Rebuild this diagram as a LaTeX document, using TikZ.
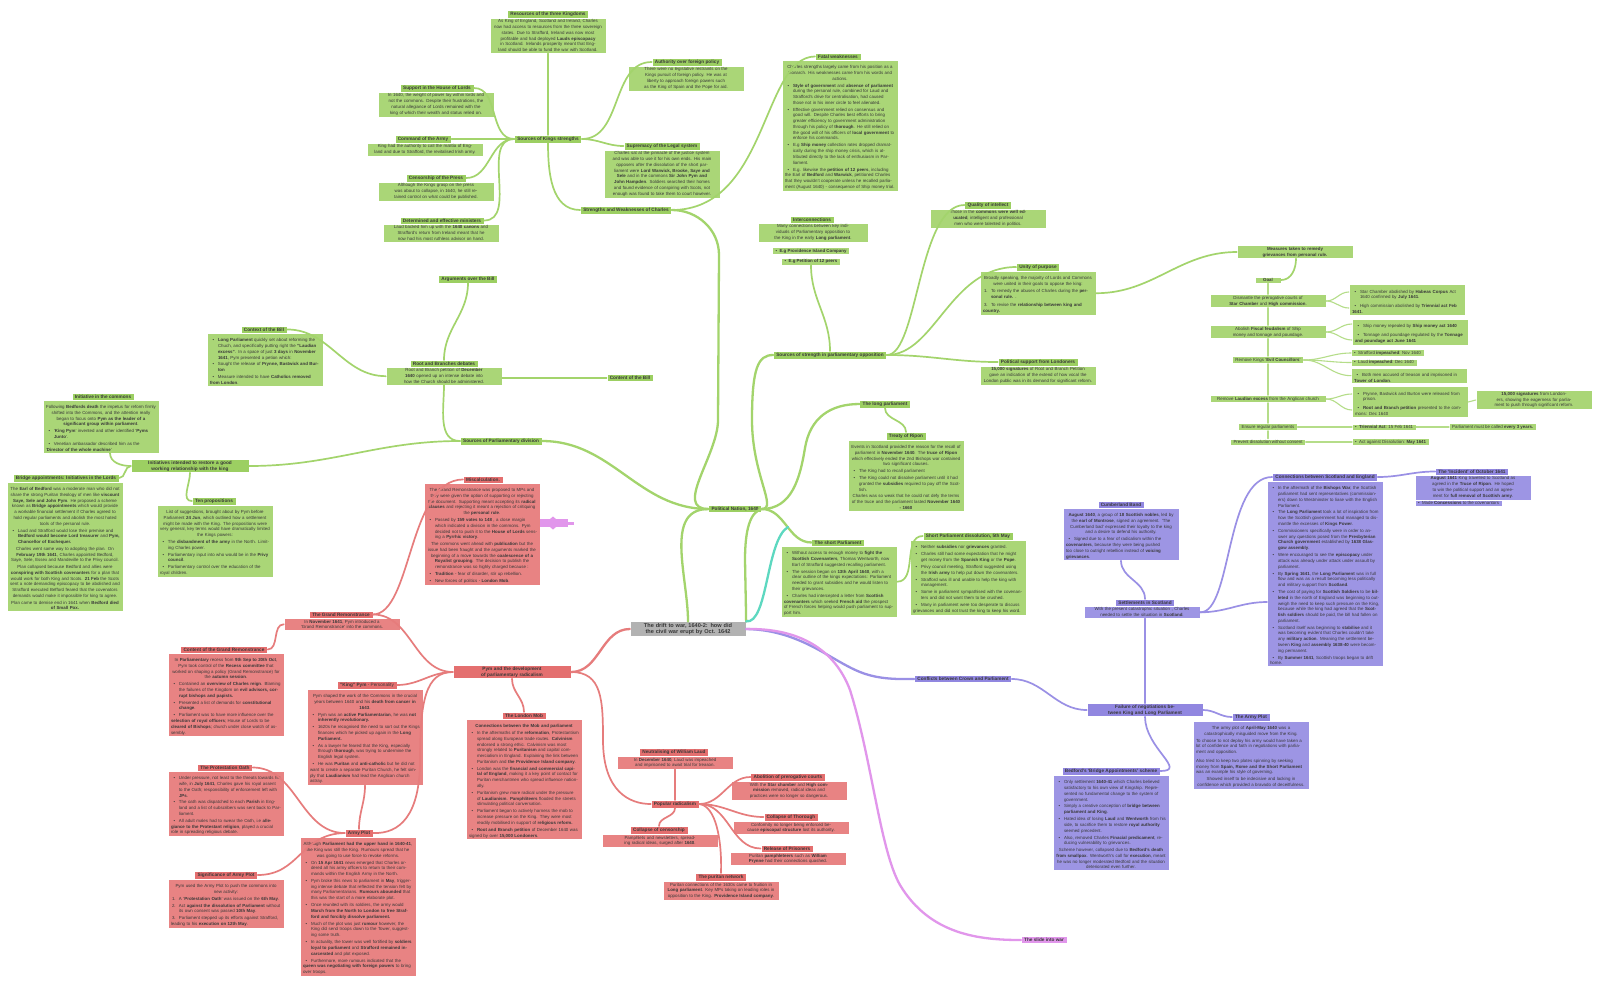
\documentclass[tikz,border=0pt]{standalone}
\usepackage{fontspec}
\setmainfont{Liberation Sans}
\definecolor{cgt}{HTML}{9CCF62}
\definecolor{cgb}{HTML}{AAD677}
\definecolor{cgl}{HTML}{A3D46C}
\definecolor{crt}{HTML}{E46F6F}
\definecolor{crb}{HTML}{E88383}
\definecolor{crl}{HTML}{E67C7C}
\definecolor{cpt}{HTML}{9187E0}
\definecolor{cpb}{HTML}{9D95E4}
\definecolor{cpl}{HTML}{9A90E5}
\definecolor{cpk}{HTML}{E196EB}
\definecolor{ctl}{HTML}{5DD8C0}
\definecolor{cgy}{HTML}{B2B2B2}
\definecolor{ctx}{HTML}{383838}
\newcommand\bodyf{\fontsize{4.4}{5.75}\selectfont}
\newcommand\titf{\fontsize{4.7}{5.6}\selectfont\bfseries}
\newcommand\bi{\par\vspace{1.2pt}\noindent\hangindent=8pt\hangafter=1\hbox to 8pt{\hskip2.5pt\textbullet\hss}}
\newcommand\numi[1]{\par\vspace{1.2pt}\noindent\hangindent=8pt\hangafter=1\hbox to 8pt{\hskip1pt#1\hss}}
\newcommand\cp[1]{\par\vspace{1pt}{\centering#1\par}}
\tikzset{
 boxbase/.style={inner xsep=3pt, inner ysep=1.6pt, text=ctx, draw=white, line width=0.4pt},
 gT/.style={boxbase, fill=cgt, font=\titf},
 gB/.style={boxbase, fill=cgb, font=\bodyf, text width=110pt, align=center},
 gBl/.style={gB, align=left},
 gS/.style={boxbase, fill=cgb, font=\bodyf},
 rT/.style={boxbase, fill=crt, font=\titf},
 rB/.style={boxbase, fill=crb, font=\bodyf, text width=110pt, align=center},
 rBl/.style={rB, align=left},
 pT/.style={boxbase, fill=cpt, font=\titf},
 pB/.style={boxbase, fill=cpb, font=\bodyf, text width=110pt, align=center},
 pBl/.style={pB, align=left},
 gl/.style={draw=cgl, line width=1.7pt, line cap=round},
 glm/.style={draw=cgl, line width=2.3pt, line cap=round},
 gls/.style={draw=cgl!80!white, line width=1.1pt, line cap=round},
 rl/.style={draw=crl, line width=1.7pt, line cap=round},
 rlm/.style={draw=crl, line width=2.3pt, line cap=round},
 pl/.style={draw=cpl, line width=1.7pt, line cap=round},
 plm/.style={draw=cpl, line width=2.3pt, line cap=round},
}
\begin{document}
\begin{tikzpicture}[x=1pt,y=-1pt]
\fill[white] (0,0) rectangle (1600,1002);
\useasboundingbox (0,0) rectangle (1600,1002);

% ---------------- centre
\node[boxbase, fill=cgy, font=\fontsize{5.6}{6.4}\selectfont\bfseries, text width=110pt, align=center] (c) at (688,629) {The drift to war, 1640-2: how did the civil war erupt by Oct. 1642};

% ---------------- GREEN
\node[gT] (pn) at (735,509) {Political Nation, 1640};
\node[gT] (spd) at (501,441) {Sources of Parliamentary division};

\node[gB, anchor=north] (rb) at (444,367) {Root and Branch petition of \textbf{December 1640} opened up an intense debate into how the Church should be administered.};
\node[gT, anchor=south] (rbT) at (444,367) {Root and Branches debates};
\node[gT] (cob) at (630,378) {Content of the Bill};
\node[gT] (aob) at (468,279) {Arguments over the Bill};

\node[gBl, anchor=north] (ctx) at (265,333) {\bi \textbf{Long Parliament} quickly set about reforming the Chuch, and specifically putting right the \textbf{"Laudian excess"}. In a space of just \textbf{3 days} in \textbf{November 1641}, Pym presented a petion which:
\bi Sought the release of \textbf{Prynne, Bastwick and Burton}
\bi Measure intended to have \textbf{Catholics removed from London}.};
\node[gT, anchor=south] (ctxT) at (264,333) {Context of the Bill};

\node[gT, text width=112pt, align=center] (init) at (190,466) {Initiatives intended to restore a good working relationship with the king};

\node[gBl, anchor=north] (iic) at (101,400) {\cp{Following \textbf{Bedfords death} the impetus for reform firmly shifted into the Commons, and the attention really began to focus onto \textbf{Pym as the leader of a significant group within parliament}.}
\bi `\textbf{King Pym}' invented and other identified `\textbf{Pyms Junto}'.
\bi Venetian ambassador described him as the `\textbf{Director of the whole machine}'};
\node[gT, anchor=south] (iicT) at (103,400) {Initiative in the commons};

\node[gBl, anchor=north] (ba) at (65,482) {\cp{The \textbf{Earl of Bedford} was a moderate man who did not share the strong Puritan theology of men like \textbf{viscount Saye, Sele and John Pym}. He proposed a scheme known as \textbf{Bridge appointments} which would provide a workable financial settlement if Charles agreed to hold regular parliaments and abolish the most hated tools of the personal rule.}
\bi Laud and Strafford would lose their premise and \textbf{Bedford would become Lord treasurer} and \textbf{Pym, Chancellor of Exchequer.}
\cp{Charles went same way to adopting the plan. On \textbf{February 19th 1641}, Charles appointed Bedford, Saye, Sele, Essex and Mandeville to the Privy council.}
\cp{Plan collapsed because Bedford and allies were \textbf{conspiring with Scottish covenanters} for a plan that would work for both King and Scots. \textbf{21 Feb} the Scots sent a note demanding episcopacy to be abolished and Strafford executed Befford feared that the covenators demands would make it impossible for king to agree.}
\cp{Plan came to demise end in 1641 when \textbf{Bedford died of Small Pox.}}};
\node[gT, anchor=south] (baT) at (66,482) {Bridge appointments: Initiatives in the Lords};

\node[gBl, anchor=north] (tp) at (215,505) {\cp{List of suggestions, brought about by Pym before Parliament \textbf{24 Jun}, which outlined how a settlement might be made with the King. The propositions were very general, key terms would have dramatically limited the Kings powers:}
\bi The \textbf{disbandment of the army} in the North. Limiting Charles power.
\bi Parliamentary input into who would be in the \textbf{Privy council}.
\bi Parliamentary control over the education of the royal children.};
\node[gT, anchor=south] (tpT) at (214,505) {Ten propositions};

% Kings strengths
\node[gT] (sks) at (548,139) {Sources of Kings strengths};
\node[gB, anchor=north] (res) at (548,18) {As King of England, Scotland and Ireland, Charles now had access to resources from the three sovereign states. Due to Strafford, Ireland was now most profitable and had deployed \textbf{Lauds episcopacy} in Scotland. Irelands prosperity meant that England should be able to fund the war with Scotland.};
\node[gT, anchor=south] (resT) at (548,18) {Resources of the three Kingdoms};

\node[gB, anchor=north] (shl) at (436,92) {In 1640, the weight of power lay within lords and not the commons. Despite their frustrations, the natural allegiance of Lords remained with the king of which their wealth and status relied on.};
\node[gT, anchor=south] (shlT) at (437,92) {Support in the House of Lords};

\node[gB, anchor=north] (ca) at (425,143) {King had the authority to call the malitia of England and due to Strafford, the revitalised Irish army.};
\node[gT, anchor=south] (caT) at (423,143) {Command of the Army};

\node[gB, anchor=north] (cpr) at (436,182) {Although the Kings grasp on the press was about to collapse, in 1640, he still retained control on what could be published.};
\node[gT, anchor=south] (cpT) at (436,182) {Censorship of the Press};

\node[gB, anchor=north] (dm) at (441,224) {Laud backed him up with the \textbf{1640 canons} and Strafford's return from Ireland meant that he now had his most ruthless advisor on hand.};
\node[gT, anchor=south] (dmT) at (442,224) {Determined and effective ministers};

\node[gB, anchor=north] (af) at (686,66) {There were no legislative restraints on the Kings pursuit of foreign policy. He was at liberty to approach foreign powers such as the King of Spain and the Pope for aid.};
\node[gT, anchor=south] (afT) at (687,66) {Authority over foreign policy};

\node[gB, anchor=north] (slg) at (662,150) {Charles sat at the pinnacle of the justice system and was able to use it for his own ends. His main opposers after the dissolution of the short parliament were \textbf{Lord Warwick, Brooke, Saye and Sele} and in the commons \textbf{Sir John Pym and John Hampden}. Soldiers searched their homes and found evidence of conspiring with Scots, not enough was found to take them to court however.};
\node[gT, anchor=south] (slT) at (662,150) {Supremacy of the Legal system};

\node[gT] (sw) at (626,210) {Strengths and Weaknesses of Charles};

\node[gBl, anchor=north] (fw) at (840,60) {\cp{Charles strengths largely came from his position as a monarch. His weaknesses came from his words and actions.}
\bi \textbf{Style of government} and \textbf{absence of parliament} during the personal rule, combined for Laud and Strafford's drive for centralisation, had caused those not in his inner circle to feel alienated.
\bi Effective government relied on consensus and good will. Despite Charles best efforts to bring greater efficiency to government administration through his policy of \textbf{thorough}. He still relied on the good will of his officers of \textbf{local government} to enforce his commands.
\bi E.g \textbf{Ship money} collection rates dropped dramatically during the ship money crisis, which is attributed directly to the lack of enthusiasm in Parliament.
\bi E.g. likewise the \textbf{petition of 12 peers}, including the Earl of \textbf{Bedford} and \textbf{Warwick}, petitioned Charles that they wouldn't cooperate unless he recalled parliament (August 1640) - consequence of Ship money trial.};
\node[gT, anchor=south] (fwT) at (838,60) {Fatal weaknesses};

% parliamentary opposition
\node[gB, anchor=north, text width=104pt] (ic) at (813,223) {Many connections between key individuals of Parliamentary opposition to the King in the early \textbf{Long parliament}.};
\node[gT, anchor=south] (icT) at (812,223) {Interconnections};
\node[gS, font=\bodyf\bfseries] (ic1) at (811,251) {\textbullet\ \ E.g Providence Island Company};
\node[gS, font=\bodyf\bfseries] (ic2) at (811,261.5) {\textbullet\ \ E.g Petition of 12 peers};

\node[gT] (sspo) at (830,355) {Sources of strength in parliamentary opposition};

\node[gB, anchor=north] (qi) at (988,209) {Those in the \textbf{commons were well educated}, intelligent and professional men who were talented in politics.};
\node[gT, anchor=south] (qiT) at (988,209) {Quality of intellect};

\node[gBl, anchor=north] (up) at (1038,271) {\cp{Broadly speaking, the majority of Lords and Commons were united in their goals to oppose the king:}
\numi{1.}To remedy the abuses of Charles during the \textbf{personal rule.} .
\vspace{2pt}
\numi{3.}To revise the \textbf{relationship between king and country.}};
\node[gT, anchor=south] (upT) at (1038,271) {Unity of purpose};

\node[gB, anchor=north] (ps) at (1038,366) {\textbf{15,000 signatures} of Root and Branch Petition gave an indication of the extend of how vocal the London public was in its demand for significant reform.};
\node[gT, anchor=south] (psT) at (1038,366) {Political support from Londoners};

% measures
\node[gB, font=\bodyf\bfseries] (meas) at (1295,252) {Measures taken to remedy grievances from personal rule.};
\node[gS, font=\bodyf\bfseries, minimum width=26pt] (goal) at (1268,280) {Goal};
\node[gB] (dism) at (1268,301) {Dismantle the prerogative courts of \textbf{Star Chamber} and \textbf{High commission}.};
\node[gBl] (dismB) at (1407,300) {\bi Star Chamber abolished by \textbf{Habeas Corpus} Act 1640 confirmed by \textbf{July 1641}.\par\vspace{2pt}
\bi High commission abolished by \textbf{Triennial act Feb 1641}.};
\node[gB] (abol) at (1268,332) {Abolish \textbf{Fiscal feudalism} of Ship money and tonnage and poundage.};
\node[gBl] (abolB) at (1410,332) {\bi Ship money repealed by \textbf{Ship money act 1640}\par\vspace{2pt}
\bi Tonnage and poundage regulated by the \textbf{Tonnage and poundage act June 1641}};
\node[gS] (evil) at (1268,360) {Remove Kings `\textbf{Evil Councillors}'};
\node[gS, anchor=west] (ev1) at (1351,353) {\textbullet\ \ Strafford \textbf{impeached}: Nov 1640};
\node[gS, anchor=west] (ev2) at (1351,362.5) {\textbullet\ \ Laud \textbf{impeached}: Dec 1640};
\node[gBl, anchor=north west] (ev3) at (1351,367.5) {\bi Both men accused of treason and imprisoned in \textbf{Tower of London}.};
\node[gB] (laud) at (1268,399) {Remove \textbf{Laudian excess} from the Anglican church};
\node[gBl] (laudB) at (1410,402) {\bi Prynne, Bastwick and Burton were released from prison.\par\vspace{2pt}
\bi \textbf{Root and Branch petition} presented to the commons: Dec 1640};
\node[gB] (sig) at (1534,400) {\textbf{15,000 signatures} from Londoners, showing the eagerness for parliament to push through significant reform.};
\node[gS] (ens) at (1268,427) {Ensure regular parliaments};
\node[gS, anchor=west] (tri) at (1352,427) {\textbullet\ \ \textbf{Triennial Act}: 15 Feb 1641};
\node[gS, anchor=west] (ev3y) at (1449,427) {Parliament must be called \textbf{every 3 years.}};
\node[gS] (prev) at (1268,442) {Prevent dissolution without consent};
\node[gS, anchor=west] (dis) at (1352,442) {\textbullet\ \ Act against Dissolution: \textbf{May 1641}};

% long / short parliament
\node[gT] (lp) at (885,404) {The long parliament};
\node[gBl, anchor=north] (tr) at (906,440) {\cp{Events in Scotland provided the reason for the recall of parliament in \textbf{November 1640}. The \textbf{truce of Ripon} which effectively ended the 2nd Bishops war contained two significant clauses.}
\bi The King had to recall parliament
\bi The King could not dissolve parliament until it had granted the \textbf{subsidies} required to pay off the Scottish.
\cp{Charles was so weak that he could not defy the terms of the truce and the parliament lasted \textbf{November 1640 - 1660}}};
\node[gT, anchor=south] (trT) at (906,440) {Treaty of Ripon};

\node[gBl, anchor=north] (sp) at (839,546) {\bi Without access to enough money to \textbf{fight the Scottish Covenanters}, Thomas Wentworth, now Earl of Strafford suggested recalling parliament.
\bi The session began on \textbf{13th April 1640}, with a clear outline of the kings expectations: Parliament needed to grant subsidies and he would listen to their grievances.
\bi Charles had intercepted a letter from \textbf{Scottish covenanters} which seeked \textbf{French aid} the prospect of French forces helping would push parliament to support him.};
\node[gT, anchor=south] (spT) at (838,546) {The short Parliament};

\node[gBl, anchor=north] (spx) at (968,540) {\bi Neither \textbf{subsidies} nor \textbf{grievances} granted.
\bi Charles still had some expectation that he might get money from the \textbf{Spanish King} or the \textbf{Pope}.
\bi Privy council meeting, Strafford suggested using the \textbf{Irish army} to help put down the covenanters.
\bi Strafford was ill and unable to help the king with management.
\bi Some in parliament sympathised with the covenanters and did not want them to be crushed.
\bi Many in parliament were too desperate to discuss grievances and did not trust the king to keep his word.};
\node[gT, anchor=south] (spxT) at (968,540) {Short Parliament dissolution, 5th May};

% ---------------- RED
\node[rT, text width=112pt, align=center] (pym) at (512,672) {Pym and the development of parliamentary radicalism};

\node[rBl, anchor=north] (lm) at (524,719) {\cp{\textbf{Connections between the Mob and parliament}}
\bi In the aftermaths of the \textbf{reformation}, Protestantism spread along European trade routes. \textbf{Calvinism} endorsed a strong ethic. Calvinism was most strongly related to \textbf{Puritanism} and capital commercialism in England. Explaining the link between Puritanism and \textbf{the Providence Island company}.
\bi London was the \textbf{financial and commercial capital of England}, making it a key point of contact for Puritan merchantmen who spread influence nationally.
\bi Puritanism grew more radical under the pressure of \textbf{Laudianism}. \textbf{Pamphliteers} flooded the streets stimulating political conversation.
\bi Parliament began to actively harness the mob to increase pressure on the King. They were most readily mobilised in support of \textbf{religious reform.}
\bi \textbf{Root and Branch petition} of December 1640 was signed by over \textbf{15,000 Londoners}.};
\node[rT, anchor=south] (lmT) at (524,719) {The London Mob};

\node[rB, anchor=north] (nl) at (675,756) {In \textbf{December 1640}, Laud was impeached and imprisoned to await trial for treason.};
\node[rT, anchor=south] (nlT) at (674,756) {Neutralising of William Laud};

\node[rT] (pr) at (675,804) {Popular radicalism};

\node[rB, anchor=north] (cc) at (660,834) {Pamphlets and newsletters, spreading radical ideas, surged after \textbf{1640}.};
\node[rT, anchor=south] (ccT) at (659,834) {Collapse of censorship};

\node[rB, anchor=north] (pnw) at (721,881) {Puritan connections of the 1630s came to fruition in \textbf{Long parliament}. Key MPs taking on leading roles in opposition to the King. \textbf{Providence Island company}.};
\node[rT, anchor=south] (pnwT) at (721,881) {The puritan network};

\node[rB, anchor=north] (apc) at (789,781) {With the \textbf{Star chamber} and \textbf{High commission} removed, radical ideas and practices were no longer so dangerous.};
\node[rT, anchor=south] (apcT) at (788,781) {Abolition of prerogative courts};

\node[rB, anchor=north] (ct) at (791,821) {Conformity no longer being enforced because \textbf{episcopal structure} lost its authority.};
\node[rT, anchor=south] (ctT) at (791,821) {Collapse of Thorough};

\node[rB, anchor=north] (rp) at (788,852) {Puritan \textbf{pamphleteers} such as \textbf{William Prynne} had their connections quashed.};
\node[rT, anchor=south] (rpT) at (787,852) {Release of Prisoners};

\node[rB, anchor=north] (gr) at (342,618) {In \textbf{November 1641}, Pym introduced a `Grand Remonstrance' into the commons.};
\node[rT, anchor=south] (grT) at (341,618) {The Grand Remonstrance};

\node[rBl, anchor=north] (cgr) at (226,653) {\cp{In \textbf{Parliamentary} recess from \textbf{9th Sep to 20th Oct}, Pym took control of the \textbf{Recess committee} that worked on shaping a policy (Grand Remonstrance) for the \textbf{autumn session}.}
\bi Contained an \textbf{overview of Charles reign}. Blaming the failures of the Kingdom on \textbf{evil advisors, corrupt bishops and papists.}
\bi Presented a list of demands for \textbf{constitutional change}.
\bi Parliament was to have more influence over the \textbf{selection of royal officers}; House of Lords to be \textbf{cleared of Bishops}; church under close watch of assembly.};
\node[rT, anchor=south] (cgrT) at (224,653) {Content of the Grand Remonstrance};

\node[rBl, anchor=north] (mi) at (482,483) {\cp{The Grand Remonstrance was proposed to MPs and they were given the option of supporting or rejecting the document. Supporting meant accepting its \textbf{radical clauses} and rejecting it meant a rejection of critiquing the \textbf{personal rule}.}
\bi Passed by \textbf{159 votes to 148} , a close margin which indicated a division in the commons. Pym decided not to push it to the \textbf{House of Lords} sensing a \textbf{Pyrrhic victory}.
\cp{The commons went ahead with \textbf{publication} but the issue had been fraught and the arguments marked the beginning of a move towards the \textbf{coalescence of a Royalist grouping}. The decision to publish the remonstrance was so highly charged because :}
\bi \textbf{Tradition} - fear of disorder, stir up rebellion.
\bi New forces of politics - \textbf{London Mob}.};
\node[rT, anchor=south] (miT) at (483,483) {Miscalculation.};

\node[rBl, anchor=north] (kp) at (365,689) {\cp{Pym shaped the work of the Commons in the crucial years between 1640 and his \textbf{death from cancer in 1643}.}
\bi Pym was an \textbf{active Parliamentarian}, he was \textbf{not inherently revolutionary.}
\bi 1620s he recognised the need to sort out the Kings finances which he picked up again in the \textbf{Long Parliament.}
\bi As a lawyer he feared that the King, especially through \textbf{thorough}, was trying to undermine the English legal system.
\bi He was \textbf{Puritan} and \textbf{anti-catholic} but he did not want to create a separate Puritan Church, he felt simply that \textbf{Laudianism} had lead the Anglican church astray.};
\node[rT, anchor=south] (kpT) at (367,689) {"King" Pym \textmd{- Personality}};

\node[rBl, anchor=north] (po) at (226,771) {\bi Under pressure, not least to the threats towards his wife, in \textbf{July 1641}, Charles gave his royal assent to the Oath; responsibility of enforcement left with \textbf{JPs}.
\bi The oath was dispatched to each \textbf{Parish} in England and a list of subscribers was sent back to Parliament.
\bi All adult males had to swear the Oath, i.e \textbf{allegiance to the Protestant religion}, played a crucial role in spreading religious debate.};
\node[rT, anchor=south] (poT) at (225,771) {The Protestation Oath};

\node[rBl, anchor=north] (apl) at (358,837) {\cp{Although \textbf{Parliament had the upper hand in 1640-41}, the King was still the King. Rumours spread that he was going to use force to revoke reforms.}
\bi On \textbf{15 Apr 1641} news emerged that Charles ordered all his army officers to return to their commands within the English Army in the North.
\bi Pym broke this news to parliament in \textbf{May}, triggering intense debate that reflected the tension felt by many Parliamentarians. \textbf{Rumours abounded} that this was the start of a more elaborate plot.
\bi Once reunited with its soldiers, the army would \textbf{March from the North to London to free Strafford and forcibly dissolve parliament.}
\bi Much of the plot was just \textbf{rumour} however, the King did send troops down to the Tower, suggesting some truth.
\bi In actuality, the tower was well fortified by \textbf{soldiers loyal to parliament} and \textbf{Strafford remained incarcerated} and plot exposed.
\bi Furthermore, more rumours indicated that the \textbf{queen was negotiating with foreign powers} to bring over troops.};
\node[rT, anchor=south] (aplT) at (359,837) {Army Plot};

\node[rBl, anchor=north] (sa) at (226,879) {\cp{Pym used the Army Plot to push the commons into new activity:}
\numi{1.}A `\textbf{Protestation Oath}' was issued on the \textbf{6th May}.
\numi{2.}Act \textbf{against the dissolution of Parliament} without its own consent was passed \textbf{10th May}.
\numi{3.}Parliament stepped up its efforts against Strafford, leading to his \textbf{execution on 12th May}.};
\node[rT, anchor=south] (saT) at (226,879) {Significance of Army Plot};

% ---------------- PURPLE
\node[pT] (cbcp) at (963,679) {Conflicts between Crown and Parliament};
\node[pT, text width=110pt, align=center] (fail) at (1145,710) {Failure of negotiations between King and Long Parliament};

\node[pB, anchor=north] (ss) at (1142,606) {With the present catastrophic situation , Charles needed to settle the situation in \textbf{Scotland}.};
\node[pT, anchor=south] (ssT) at (1145,606) {Settlements in Scotland};

\node[pBl, anchor=north] (cb) at (1121,508) {\cp{\textbf{August 1640}, a group of \textbf{18 Scottish nobles}, led by the \textbf{earl of Montrose}, signed an agreement. `The Cumberland bad' expressed their loyalty to the king and a desire to defend his authority.}
\bi Signed due to a fear of radicalism within the \textbf{covenanters}, because they were being pushed too close to outright rebellion instead of \textbf{voicing grievances}.};
\node[pT, anchor=south] (cbT) at (1121,508) {Cumberland Band};

\node[pBl, anchor=north] (cse) at (1325,481) {\bi In the aftermath of the \textbf{Bishops War}, the Scottish parliament had sent representatives (commissioners) down to Westminster to liase with the English Parliament.
\bi The \textbf{Long Parliament} took a lot of inspiration from how the Scottish government had managed to dismantle the excesses of \textbf{Kings Power}.
\bi Commissioners specifically were in order to answer any questions posed from the \textbf{Presbyterian Church government} established by \textbf{1638 Glasgow assembly}.
\bi Were encouraged to see the \textbf{episcopacy} under attack was already under attack under assault by parliament.
\bi By \textbf{Spring 1641}, the \textbf{Long Parliament} was in full flow and was as a result becoming less politically and military support from \textbf{Scotland}.
\bi The cost of paying for \textbf{Scottish Soldiers} to be \textbf{billeted} in the north of England was beginning to outweigh the need to keep such pressure on the King, because while the king had agreed that the \textbf{Scottish soldiers} should be paid, the bill had fallen on parliament.
\bi Scotland itself was beginning to \textbf{stabilise} and it was becoming evident that Charles couldn't take any \textbf{military action}. Meaning the settlement between \textbf{King} and \textbf{assembly 1638-40} were becoming permanent.
\bi By \textbf{Summer 1641}, Scottish troops began to drift home.};
\node[pT, anchor=south] (cseT) at (1325,481) {Connections between Scotland and England};

\node[pB, anchor=north] (inc) at (1473,475) {\textbf{August 1641} King travelled to Scotland as agreed in the \textbf{Truce of Ripon}. He hoped to win the political support and an agreement for \textbf{full removal of Scottish army}.};
\node[pT, anchor=south] (incT) at (1472,475) {The `Incident' of October 1641};
\node[boxbase, fill=cpb, font=\bodyf, anchor=north west] (inc2) at (inc.south west) {\textbullet\ \ Made \textbf{Concessions} to the covenantors};

\node[pBl, anchor=north] (pap) at (1251,721) {\cp{The army plot of \textbf{April-May 1640} was a catastrophically misguided move from the King.}
\par\vspace{1pt}\noindent To choose to not deploy his army would have taken a lot of confidence and faith in negotiations with parliament and opposition.
\par\vspace{3pt}\noindent Also tried to keep two plates spinning by seeking money from \textbf{Spain, Rome and the Short Parliament} was an example his style of governing.
\cp{Showed inself to be indecisive and lacking in confidence which provided a bravado of deceitfulness.}};
\node[pT, anchor=south] (papT) at (1251,721) {The Army Plot};

\node[pBl, anchor=north] (bs) at (1111,775) {\bi Only settlement \textbf{1640-41} which Charles believed satisfactory to his own view of Kingship. Represented no fundamental change to the system of government.
\bi Simply a creative conception of \textbf{bridge between parliament and King}.
\bi Hated idea of losing \textbf{Laud} and \textbf{Wentworth} from his side, to sacrifice them to restore \textbf{royal authority} seemed precedent.
\bi Also, removed Charles \textbf{Finacial predicament}, reducing vulnerability to grievances.
\cp{Scheme however, collapsed due to \textbf{Bedford's death from smallpox}. Wentworth's call for \textbf{execution}, meant he was no longer moderated Bedford and the situation deteriorated even further.}};
\node[pT, anchor=south] (bsT) at (1111,775) {Bedford's `Bridge Appointments' scheme};

% ---------------- PINK
\node[boxbase, fill=cpk, font=\titf] (slide) at (1044,940) {The slide into war};
\fill[cpk] (540,519) rectangle (568,527);
\fill[cpk] (550,519) -- (553,516.5) -- (556,519) -- cycle;
\fill[cpk] (550,527) -- (553,529.5) -- (556,527) -- cycle;
\fill[cpk] (567,522) rectangle (573.5,524.5);

\coordinate (tealEnd) at (788,527);
\coordinate (cseIn) at (1267,602);

% ================= CONNECTORS
% green
\draw[glm] (c.north) to[out=90,in=180] (pn.west);
\draw[glm] (pn.west) to[out=180,in=0] (spd.east);
\draw[glm] (pn.west) to[out=180,in=-90] (718,420) -- (719,255) to[out=90,in=0] (sw.east);
\draw[glm] (pn.east) .. controls (778,509) and (752,475) .. (752,420) .. controls (752,368) and (758,355) .. (sspo.west);
\draw[glm] (pn.east) .. controls (792,509) and (800,478) .. (805,448) .. controls (810,418) and (830,404) .. (lp.west);
\draw[glm] (pn.east) to[out=0,in=180] (spT.west);
\draw[glm] (pn.east) .. controls (750,512) and (745,530) .. (745,560) -- (746,612) .. controls (746,618) .. (c.north east);
\draw[ctl, line width=2.3pt, line cap=round] (c.north east) .. controls (768,624) and (766,540) .. (tealEnd);

\draw[gl] (spd.west) to[out=180,in=0] (init.east);
\draw[gl] (spd.west) to[out=180,in=-90] (rb.south);
\draw[gl] (rbT.north) to[out=90,in=-90] (aob.south);
\draw[gl] (cob.west -| rb.east) -- (cob.west);
\draw[gl] (rb.west) to[out=180,in=0] (ctxT.east);
\draw[gl] (init.west) to[out=180,in=-90] ([xshift=9pt]iic.south);
\draw[gl] (init.west) to[out=180,in=0] (baT.east);
\draw[gl] (init.south) to[out=-90,in=180] (tpT.west);

\draw[gl] (sks.north) -- (res.south);
\draw[gl] (sks.west) to[out=180,in=0] (shlT.east);
\draw[gl] (sks.west) to[out=180,in=0] (caT.east);
\draw[gl] (sks.west) to[out=180,in=0] (cpT.east);
\draw[gl] (sks.west) to[out=180,in=0] (dmT.east);
\draw[gl] (sks.east) to[out=0,in=180] (afT.west);
\draw[gl] (sks.east) to[out=0,in=180] (slT.west);
\draw[gl] (sks.south) to[out=-90,in=180] (sw.west);
\draw[gl] (sw.east) .. controls (768,210) and (762,57) .. (fwT.west);

\draw[gl] (sspo.north) to[out=90,in=-90] (ic2.south);
\draw[gl] (sspo.east) .. controls (918,355) and (918,205) .. (qiT.west);
\draw[gl] (sspo.east) .. controls (935,355) and (950,267) .. (upT.west);
\draw[gl] (sspo.east) to[out=0,in=180] (psT.west);
\draw[gl] (up.east) to[out=0,in=180] (meas.west);

\draw[gl] ([xshift=1pt]meas.south) to[out=-90,in=0] (goal.east);
\draw[gls] (goal.south) -- (dism.north);
\draw[gls] (dism.south) -- (abol.north);
\draw[gls] (abol.south) -- (evil.north);
\draw[gls] (evil.south) -- (laud.north);
\draw[gls] (laud.south) -- (ens.north);
\draw[gls] (ens.south) -- (prev.north);
\draw[gls] (dism.east) to[out=0,in=180] ([yshift=8pt]dismB.west);
\draw[gls] (dism.east) to[out=0,in=180] ([yshift=-8pt]dismB.west);
\draw[gls] (abol.east) to[out=0,in=180] ([yshift=8pt]abolB.west);
\draw[gls] (abol.east) to[out=0,in=180] ([yshift=-8pt]abolB.west);
\draw[gls] (evil.east) to[out=0,in=180] (ev1.west);
\draw[gls] (evil.east) to[out=0,in=180] (ev2.west);
\draw[gls] (evil.east) to[out=0,in=180] (ev3.west);
\draw[gls] (laud.east) to[out=0,in=180] ([yshift=8pt]laudB.west);
\draw[gls] (laud.east) to[out=0,in=180] ([yshift=-8pt]laudB.west);
\draw[gls] (laudB.east) to[out=0,in=180] (sig.west);
\draw[gls] (ens.east) -- (tri.west);
\draw[gls] (tri.east) -- (ev3y.west);
\draw[gls] (prev.east) -- (dis.west);

\draw[gl] (lp.south) to[out=-90,in=90] (trT.north);
\draw[gl] (sp.east) to[out=0,in=180] (spxT.west);

% red
\draw[rlm] (c.west) to[out=180,in=0] (pym.east);
\draw[rl] (grT.east) to[out=0,in=180] (pym.west);
\draw[rl] (grT.east) .. controls (412,614) and (408,480) .. (miT.west);
\draw[rl] (gr.west) to[out=180,in=0] (cgrT.east);
\draw[rl] (pym.west) to[out=180,in=0] (kpT.east);
\draw[rl] (pym.west) .. controls (426,672) and (420,700) .. (420,760) .. controls (420,815) and (400,834) .. (aplT.east);
\draw[rl] (kp.south) to[out=-90,in=90] (aplT.north);
\draw[rl] (poT.east) to[out=0,in=180] (aplT.west);
\draw[rl] (saT.east) .. controls (300,875) and (300,834) .. (aplT.west);
\draw[rl] (pym.south) to[out=-90,in=90] (lmT.north);
\draw[rl] (pym.east) .. controls (602,672) and (603,700) .. (603,740) .. controls (603,792) and (630,804) .. (pr.west);
\draw[rl] (pr.north) -- (nl.south);
\draw[rl] (pr.south) to[out=-90,in=90] (ccT.north);
\draw[rl] (pr.east) to[out=0,in=180] (apcT.west);
\draw[rl] (pr.east) to[out=0,in=180] (ctT.west);
\draw[rl] (pr.east) to[out=0,in=180] (rpT.west);
\draw[rl] (pr.east) .. controls (716,806) and (722,840) .. (pnwT.north);

% purple
\draw[plm] (c.east) .. controls (800,630) and (830,660) .. (860,672) .. controls (880,680) and (900,679) .. (cbcp.west);
\draw[pl] (cbcp.east) to[out=0,in=180] (fail.west);
\draw[pl] (fail.north) -- (fail.north |- ss.south);
\draw[pl] (ssT.north) to[out=90,in=-90] (cb.south);
\draw[pl] (ss.east) .. controls (1232,613) and (1225,477) .. (cseT.west);
\draw[pl] (ss.east) to[out=0,in=180] (cseIn);
\draw[pl] (cseT.east) to[out=0,in=180] (incT.west);
\draw[pl] (fail.east) to[out=0,in=180] (papT.west);
\draw[pl] (fail.south) .. controls (1145,748) and (1188,771) .. (bsT.east);

% pink
\draw[draw=cpk, line width=2.3pt, line cap=round] (c.east) .. controls (800,628) and (835,650) .. (850,690) .. controls (872,760) and (880,850) .. (900,885) .. controls (930,935) and (980,940) .. (slide.west);

\end{tikzpicture}
\end{document}
